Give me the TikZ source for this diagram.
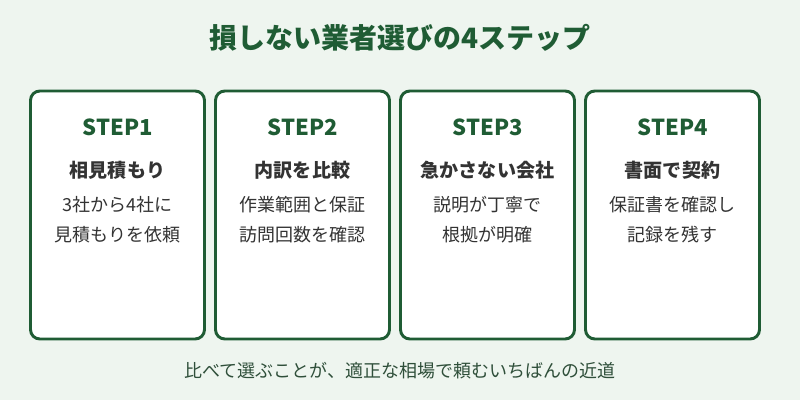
\documentclass[tikz,border=0pt]{standalone}
\usepackage{fontspec}
\setmainfont{Noto Sans CJK JP}
\definecolor{bg}{HTML}{EEF5EF}
\definecolor{dg}{HTML}{1F5C34}
\definecolor{tx}{HTML}{333333}
\definecolor{ft}{HTML}{2F4F3A}
\begin{document}
\begin{tikzpicture}[x=0.75pt,y=-0.75pt,
  steplab/.style={text=dg,font=\fontsize{16.5}{19}\selectfont\bfseries},
  sub/.style={text=tx,font=\fontsize{14.3}{17}\selectfont\bfseries},
  body/.style={text=tx,font=\fontsize{13.5}{22.5}\selectfont,align=center}]
\fill[bg] (0,0) rectangle (800,400);
\useasboundingbox (0,0) rectangle (800,400);
\node[text=dg,font=\fontsize{21}{24}\selectfont\bfseries] (title) at (400,38) {損しない業者選びの4ステップ};
\foreach \i/\cx/\s/\a/\b in {1/117.5/相見積もり/3社から4社に/見積もりを依頼,
  2/302.5/内訳を比較/作業範囲と保証/訪問回数を確認,
  3/487.5/急かさない会社/説明が丁寧で/根拠が明確,
  4/672.5/書面で契約/保証書を確認し/記録を残す}{
  \draw[draw=dg,line width=2.2pt,fill=white,rounded corners=7pt] (\cx-87,91) rectangle (\cx+87,339);
  \node[steplab] (s\i) at (\cx,127) {STEP\i};
  \node[sub] (t\i) at (\cx,170) {\s};
  \node[body] (b\i) at (\cx,220) {\a\\\b};
}
\node[text=ft,font=\fontsize{13.5}{16}\selectfont] (foot) at (400,371) {比べて選ぶことが、適正な相場で頼むいちばんの近道};
\end{tikzpicture}
\end{document}
